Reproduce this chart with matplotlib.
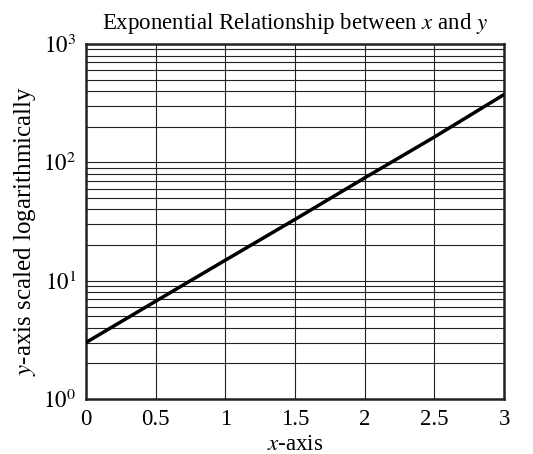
import numpy as np
import matplotlib.pyplot as plt
from matplotlib.ticker import FixedLocator, NullFormatter

plt.rcParams['font.family'] = ['Liberation Serif', 'DejaVu Serif']
plt.rcParams['mathtext.fontset'] = 'stix'

# values
x_vals = [0, 0.5, 1, 1.5, 2, 2.5, 3]
y_vals = [3.0, 6.7, 14.9, 33.0, 74.0, 164.0, 375.0]

x_ticks = [0, 0.5, 1, 1.5, 2, 2.5, 3]
x_tick_labels = ["0", "0.5", "1", "1.5", "2", "2.5", "3"]
y_ticks = [1, 10, 100, 1000]
y_tick_labels = [r"$10^{0}$", r"$10^{1}$", r"$10^{2}$", r"$10^{3}$"]

fig = plt.figure(figsize=(5.33, 4.54), dpi=100)
ax = fig.add_axes([0.161, 0.121, 0.785, 0.782])

ax.semilogy(x_vals, y_vals, color="black", linewidth=2.5, zorder=3)

ax.set_xlim(0, 3)
ax.set_ylim(1, 1000)
ax.set_xticks(x_ticks)
ax.set_xticklabels(x_tick_labels)
ax.set_yticks(y_ticks)
ax.set_yticklabels(y_tick_labels)
minor = [m * 10 ** d for d in range(3) for m in range(2, 10)]
ax.yaxis.set_minor_locator(FixedLocator(minor))
ax.yaxis.set_minor_formatter(NullFormatter())

ax.grid(True, which="both", color="#222222", linewidth=0.8)
ax.tick_params(which="both", length=0, labelsize=16.5, pad=7)

for s in ax.spines.values():
    s.set_linewidth(1.8)
    s.set_color("#222222")

ax.set_title(r"Exponential Relationship between $x$ and $y$", fontsize=16.5, pad=11)
ax.set_xlabel(r"$x$-axis", fontsize=16.5, labelpad=3)
ax.set_ylabel(r"$y$-axis scaled logarithmically", fontsize=18)
ax.yaxis.set_label_coords(-0.115, 0.473)

fig.savefig("out.png", dpi=100)
